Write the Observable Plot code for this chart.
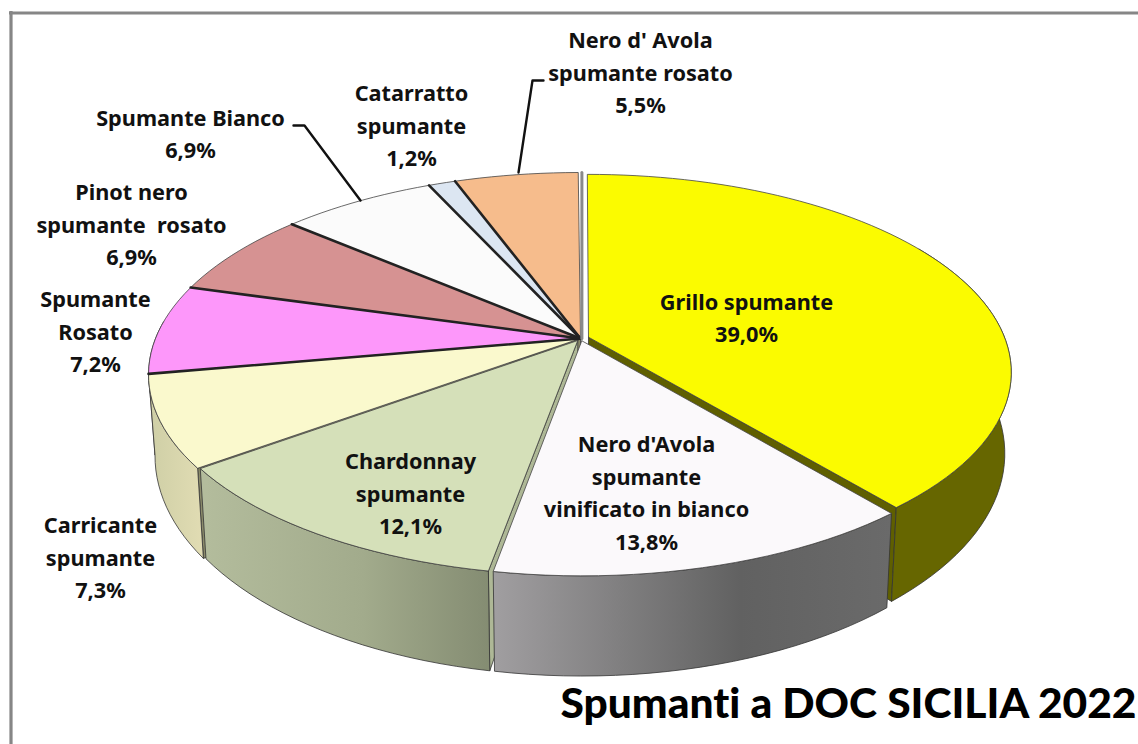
<!DOCTYPE html>
<html><head><meta charset="utf-8">
<style>html,body{margin:0;padding:0;background:#fff}svg{display:block}svg text{font-variant-ligatures:none}</style>
<script src="https://cdn.jsdelivr.net/npm/d3@7"></script>
<script src="https://cdn.jsdelivr.net/npm/@observablehq/plot@0.6"></script>
</head><body><script>
// --- data ---
const categories = ["Grillo spumante","Nero d'Avola spumante vinificato in bianco","Chardonnay spumante","Carricante spumante","Spumante Rosato","Pinot nero spumante rosato","Spumante Bianco","Catarratto spumante","Nero d'Avola spumante rosato"];
const values = [39.0,13.8,12.1,7.3,7.2,6.9,6.9,1.2,5.5];
const labelTexts = ["Grillo spumante\n39,0%","Nero d'Avola\nspumante\nvinificato in bianco\n13,8%","Chardonnay\nspumante\n12,1%","Carricante\nspumante\n7,3%","Spumante\nRosato\n7,2%","Pinot nero\nspumante  rosato\n6,9%","Spumante Bianco\n6,9%","Catarratto\nspumante\n1,2%","Nero d' Avola\nspumante rosato\n5,5%"];
const topColors = ["#FBFB00","#FBF9FB","#D5E0B9","#FAF9CD","#FD97FA","#D69292","#FBFBFB","#DCE6F2","#F6BC8C"];
const titleText = "Spumanti a DOC SICILIA 2022";
// --- layout (separate from data) ---
const labelX = [746,646,410,100,95,131,190,411,640];
const labelY = [315,490,491,555,329,222,131,123,70];
const explode = [0.02,0.012,0.012,0,0,0,0,0,0];
const radiusScale = [0.98,0.985,0.985,1,1,1,1,1,1];
const drawOrder = [8,7,6,5,4,3,0,2,1];
const faceColors = {0:"#5F5F00",2:"#AEB896",3:"#8B8B6B"};
const wallFill = ["#666600","url(#wallNero)","url(#wallChard)","url(#wallCarr)","#B070B0","#907070","#C0C0C0","#A0A8B0","#B08060"];
const d = 5.59, R = 425, cx = 580;
const starts = []; values.reduce((c,v,i)=>(starts[i]=c*3.6,c+v),0);
function project(aDeg, r, level, i){
  const a = aDeg*Math.PI/180;
  const mid = (starts[i]+values[i]*1.8)*Math.PI/180, e = explode[i], rr = r*radiusScale[i];
  const X = rr*Math.sin(a)+e*Math.sin(mid), Y = -rr*Math.cos(a)-e*Math.cos(mid);
  const f = d/(d-Y);
  return level===0 ? {x:cx+R*X*f, y:338+195.7*Y*f} : {x:cx+R*0.985*X*f, y:416+214*Y*f};
}
function arc(i,a0,a1,level){ const n=Math.max(2,Math.ceil((a1-a0)/2)); return d3.range(n+1).map(k=>project(a0+(a1-a0)*k/n,1,level,i)); }
const poly = (pts,fill,stroke="#333",sw=0.8)=>Plot.line([...pts,pts[0]],{x:"x",y:"y",fill,stroke,strokeWidth:sw,curve:"linear"});
const marks = [];
function gradient(id,stops,x0,x1){
  return ()=>{ const g=d3.create("svg:linearGradient").attr("id",id).attr("gradientUnits","userSpaceOnUse").attr("x1",x0).attr("x2",x1).attr("y1",0).attr("y2",0);
    stops.forEach(([o,c])=>g.append("stop").attr("offset",o).attr("stop-color",c)); return g.node(); };
}
marks.push(gradient("wallNero",[[0,"#A09EA0"],[0.62,"#616161"],[1,"#6A6A6A"]],495,890));
marks.push(gradient("wallChard",[[0,"#B3BC9C"],[0.55,"#A2AB8C"],[1,"#848C72"]],205,490));
marks.push(gradient("wallCarr",[[0,"#CFCFA6"],[1,"#E2DDB4"]],150,205));
// frame
marks.push(Plot.ruleY([12.5],{stroke:"#868686",strokeWidth:3.2,x1:9,x2:1138}));
marks.push(Plot.ruleX([10.5],{stroke:"#868686",strokeWidth:3.2,y1:11,y2:744}));
for(const i of drawOrder){
  const a0=starts[i], a1=a0+values[i]*3.6;
  const hubT=project(0,0,0,i), hubB=project(0,0,1,i);
  if(faceColors[i]){
    const edge = i===0 ? a1 : a0;
    marks.push(poly([hubT,project(edge,1,0,i),project(edge,1,1,i),hubB],faceColors[i]));
  }
  const v0=Math.max(a0,60), v1=Math.min(a1,275);
  if(v1>v0){ const t=arc(i,v0,v1,0), b=arc(i,v0,v1,1).reverse(); marks.push(poly([...t,...b],wallFill[i])); }
  marks.push(poly([hubT,...arc(i,a0,a1,0)],topColors[i],"#444",0.8));
}
// dark radial edges of the rear slices
for(const i of [4,5,6,7,8]){
  marks.push(Plot.line([project(0,0,0,i),project(starts[i],1,0,i)],{x:"x",y:"y",stroke:"#222",strokeWidth:2.6}));
}
// peach right face
marks.push(Plot.line([project(360,1,0,8),project(0,0,0,8)],{x:p=>p.x+1.4,y:"y",stroke:"#8a8a8a",strokeWidth:3}));
// leaders
const leaderBianco = [{x:293,y:125},{x:304,y:125},{x:360,y:200}];
const leaderRosato = [{x:518,y:172},{x:532,y:80},{x:543,y:80}];
marks.push(Plot.line(leaderBianco,{x:"x",y:"y",stroke:"#111",strokeWidth:2.4}));
marks.push(Plot.line(leaderRosato,{x:"x",y:"y",stroke:"#111",strokeWidth:2.4}));
marks.push(Plot.text(categories.map((c,i)=>i),{x:i=>labelX[i],y:i=>labelY[i],text:i=>labelTexts[i],fontFamily:"'Noto Sans'",fontWeight:700,fontSize:21.7,lineHeight:1.5,fill:"#111",textAnchor:"middle",lineAnchor:"middle"}));
marks.push(Plot.text([titleText],{x:[1136],y:[704],text:d=>d,fontFamily:"Lato",fontWeight:900,fontSize:42.5,fill:"#000",textAnchor:"end",lineAnchor:"middle"}));
const chart = Plot.plot({width:1138,height:744,margin:0,x:{domain:[0,1138],range:[0,1138],axis:null},y:{domain:[0,744],range:[0,744],axis:null},style:{background:"#fff",overflow:"hidden"},marks});
document.body.append(chart);
</script></body></html>
